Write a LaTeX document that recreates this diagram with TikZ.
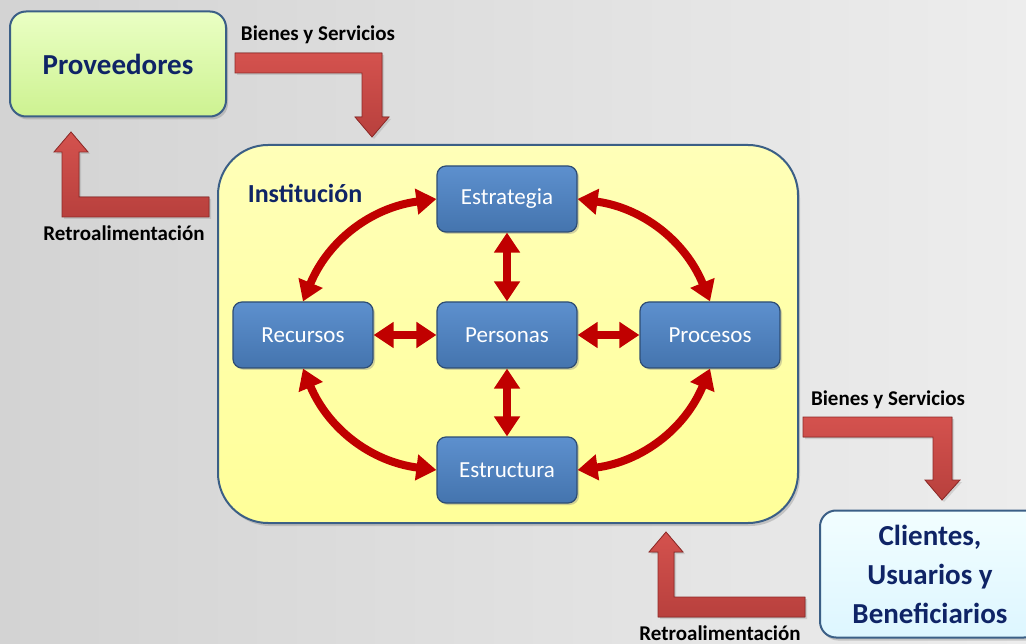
\documentclass[tikz,border=0pt]{standalone}
\usepackage{fontspec}
\setmainfont{Carlito}
\usetikzlibrary{arrows.meta,shadows,calc}

\definecolor{navy}{HTML}{0F2466}
\definecolor{frame}{HTML}{3B5F86}
\definecolor{boxtop}{HTML}{5D90CE}
\definecolor{boxbot}{HTML}{4474AE}
\definecolor{boxedge}{HTML}{2E4D74}
\definecolor{linkred}{HTML}{C00000}
\definecolor{bandtop}{HTML}{D4524E}
\definecolor{bandbot}{HTML}{B8403D}
\definecolor{bandedge}{HTML}{8E2A28}
\definecolor{greentop}{HTML}{EAFFC4}
\definecolor{greenbot}{HTML}{CDF291}
\definecolor{yellowtop}{HTML}{FFFFB8}
\definecolor{yellowbot}{HTML}{FFFF99}
\definecolor{cyantop}{HTML}{F2FEFF}
\definecolor{cyanbot}{HTML}{DDF6FF}
\definecolor{bgleft}{HTML}{D3D3D3}
\definecolor{bgright}{HTML}{EDEDED}

\begin{document}
\begin{tikzpicture}
  [
    x=1pt, y=-1pt,
    outer/.style =
      {draw=frame, line width=2pt, align=center, inner sep=0pt,
       text=navy, font=\fontsize{29}{39}\selectfont\bfseries,
       drop shadow={shadow xshift=2pt, shadow yshift=-3pt, opacity=.35}},
    unit/.style =
      {draw=boxedge, line width=1.2pt, rounded corners=9pt,
       top color=boxtop, bottom color=boxbot, text=white,
       minimum width=140pt, minimum height=66pt, inner sep=0pt,
       font=\fontsize{23}{27}\selectfont,
       drop shadow={shadow xshift=2pt, shadow yshift=-2pt, opacity=.35}},
    link/.style =
      {draw=linkred, line width=8pt,
       {Triangle[width=25pt,length=20pt]}-{Triangle[width=25pt,length=20pt]}},
    band/.style =
      {top color=bandtop, bottom color=bandbot, draw=bandedge,
       line width=.8pt, line join=miter,
       drop shadow={shadow xshift=2pt, shadow yshift=-2pt, opacity=.25}},
    caption/.style =
      {text=black, font=\fontsize{21}{25}\selectfont\bfseries, inner sep=0pt}
  ]

\useasboundingbox (0,0) rectangle (1026,644);
\shade[left color=bgleft, right color=bgright] (0,0) rectangle (1026,644);

% outer blocks
\node[outer, rounded corners=16pt, top color=greentop, bottom color=greenbot,
      minimum width=216pt, minimum height=105pt] (prov) at (118,64) {Proveedores};
\node[outer, rounded corners=50pt, top color=yellowtop, bottom color=yellowbot,
      minimum width=580pt, minimum height=378pt] (inst) at (508,334) {};
\node[outer, rounded corners=16pt, top color=cyantop, bottom color=cyanbot,
      minimum width=220pt, minimum height=127pt] (cli) at (930,574)
      {Clientes,\\Usuarios y\\Beneficiarios};

\node[text=navy, font=\fontsize{26}{30}\selectfont\bfseries, inner sep=0pt]
  (insttitle) at (305,193) {Institución};

% inner units
\node[unit] (est)  at (507,199) {Estrategia};
\node[unit] (rec)  at (303,335) {Recursos};
\node[unit] (per)  at (507,335) {Personas};
\node[unit] (pro)  at (710,335) {Procesos};
\node[unit] (estr) at (507,470) {Estructura};

\draw[link] (rec.north) to[bend left=30] (est.west);
\draw[link] (est.east) to[bend left=30] (pro.north);
\draw[link] (rec.south) to[bend right=30] (estr.west);
\draw[link] (pro.south) to[bend left=30] (estr.east);

\draw[link] (est.south) -- (per.north);
\draw[link] (per.south) -- (estr.north);
\draw[link] (rec.east) -- (per.west);
\draw[link] (per.east) -- (pro.west);

% flows between the blocks
\filldraw[band] (235,53) -| (382,117) -- (389,117) -- (372,137)
  -- (355,117) -- (362,117) |- (235,73) -- cycle;
\filldraw[band] (209,197) -| (79,152) -- (88,152) -- (71,132)
  -- (54,152) -- (62,152) |- (209,217) -- cycle;
\filldraw[band] (803,417) -| (952,480) -- (960,480) -- (942,500)
  -- (925,480) -- (933,480) |- (803,437) -- cycle;
\filldraw[band] (805,597) -| (674,552) -- (683,552) -- (666,532)
  -- (649,552) -- (658,552) |- (805,617) -- cycle;

\node[caption] (bs1) at (318,35)  {Bienes y Servicios};
\node[caption] (rt1) at (124,233) {Retroalimentación};
\node[caption] (bs2) at (888,400) {Bienes y Servicios};
\node[caption] (rt2) at (720,633) {Retroalimentación};

\end{tikzpicture}
\end{document}
